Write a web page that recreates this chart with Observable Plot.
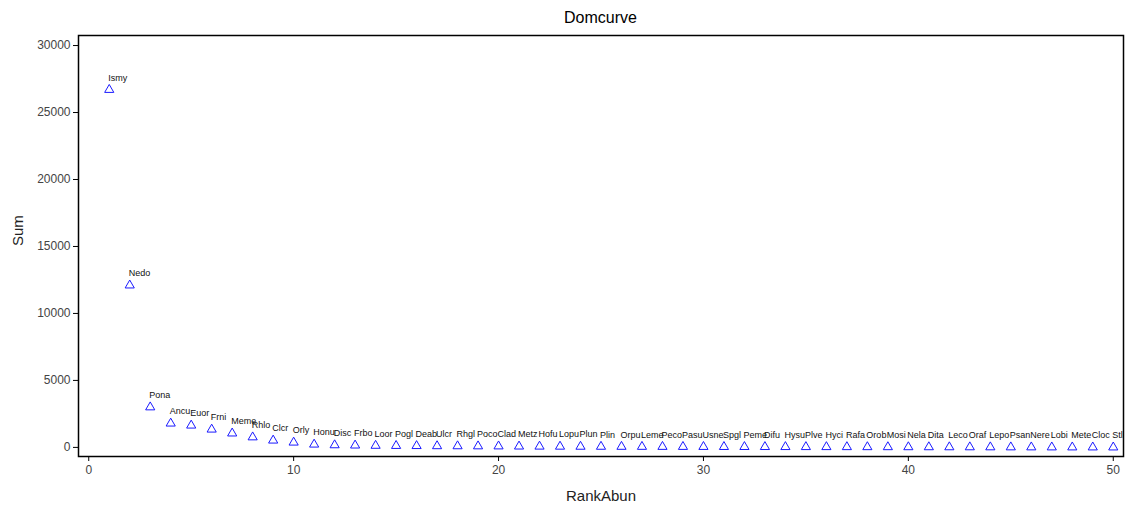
<!DOCTYPE html>
<html>
<head>
<meta charset="utf-8">
<script src="https://cdn.jsdelivr.net/npm/d3@7"></script>
<script src="https://cdn.jsdelivr.net/npm/@observablehq/plot@0.6"></script>
<style>
  body { margin: 0; background: #fff; font-family: "Liberation Sans", Arial, sans-serif; }
  #title { height: 30px; line-height: 36px; font-size: 16px; text-align: center; margin-left: 78px; width: 1045px; color: #000; }
</style>
</head>
<body>
<div id="title">Domcurve</div>
<div id="chart"></div>
<script>
const species = ["Ismy","Nedo","Pona","Ancu","Euor","Frni","Meme","Rhlo","Clcr","Orly",
  "Honu","Disc","Frbo","Loor","Pogl","Deab","Ulcr","Rhgl","Poco","Clad",
  "Metz","Hofu","Lopu","Plun","Plin","Orpu","Leme","Peco","Pasu","Usne",
  "Spgl","Peme","Difu","Hysu","Plve","Hyci","Rafa","Orob","Mosi","Nela",
  "Dita","Leco","Oraf","Lepo","Psan","Nere","Lobi","Mete","Cloc","Stli"];
const sums = [26700,12100,3000,1790,1640,1340,1050,760,520,370,
  220,170,150,130,120,110,100,95,90,85,
  75,70,65,60,58,55,52,50,48,45,
  42,40,38,36,34,32,30,28,26,24,
  22,20,18,16,14,12,10,9,8,7];
const ranks = species.map((_, i) => i + 1);
const xTicks = [0, 10, 20, 30, 40, 50];
const yTicks = [0, 5000, 10000, 15000, 20000, 25000, 30000];

const data = species.map((s, i) => ({name: s, rank: ranks[i], sum: sums[i]}));

const chart = Plot.plot({
  width: 1126,
  height: 476,
  marginTop: 5,
  marginBottom: 50,
  marginLeft: 78,
  marginRight: 3,
  style: {fontFamily: "'Liberation Sans', Arial, sans-serif", background: "#fff"},
  x: {domain: [-0.5, 50.5], ticks: xTicks, label: null},
  y: {domain: [-680, 30750], ticks: yTicks, label: null, tickFormat: d3.format("d")},
  marks: [
    Plot.frame({stroke: "#000", strokeWidth: 1.5}),
    Plot.axisX({ticks: xTicks, tickSize: 5, tickPadding: 4, fontSize: 12, color: "#444", stroke: "#000", label: null}),
    Plot.axisY({ticks: yTicks, tickSize: 5, tickPadding: 3, fontSize: 12, color: "#444", stroke: "#000", label: null, tickFormat: d3.format("d")}),
    Plot.dot(data, {x: "rank", y: "sum", symbol: "triangle", r: 3.4, stroke: "#1a1aff", fill: "none", strokeWidth: 1}),
    Plot.text(data, {x: "rank", y: "sum", text: "name", textAnchor: "start", dx: -1, dy: -12, fontSize: 9, fill: "#111", clip: "frame"}),
    Plot.text(["RankAbun"], {frameAnchor: "bottom", dy: 44, fontSize: 15, fill: "#222"}),
    Plot.text(["Sum"], {frameAnchor: "left", dx: -60, rotate: -90, fontSize: 15, fill: "#222"})
  ]
});
document.getElementById("chart").appendChild(chart);
</script>
</body>
</html>
